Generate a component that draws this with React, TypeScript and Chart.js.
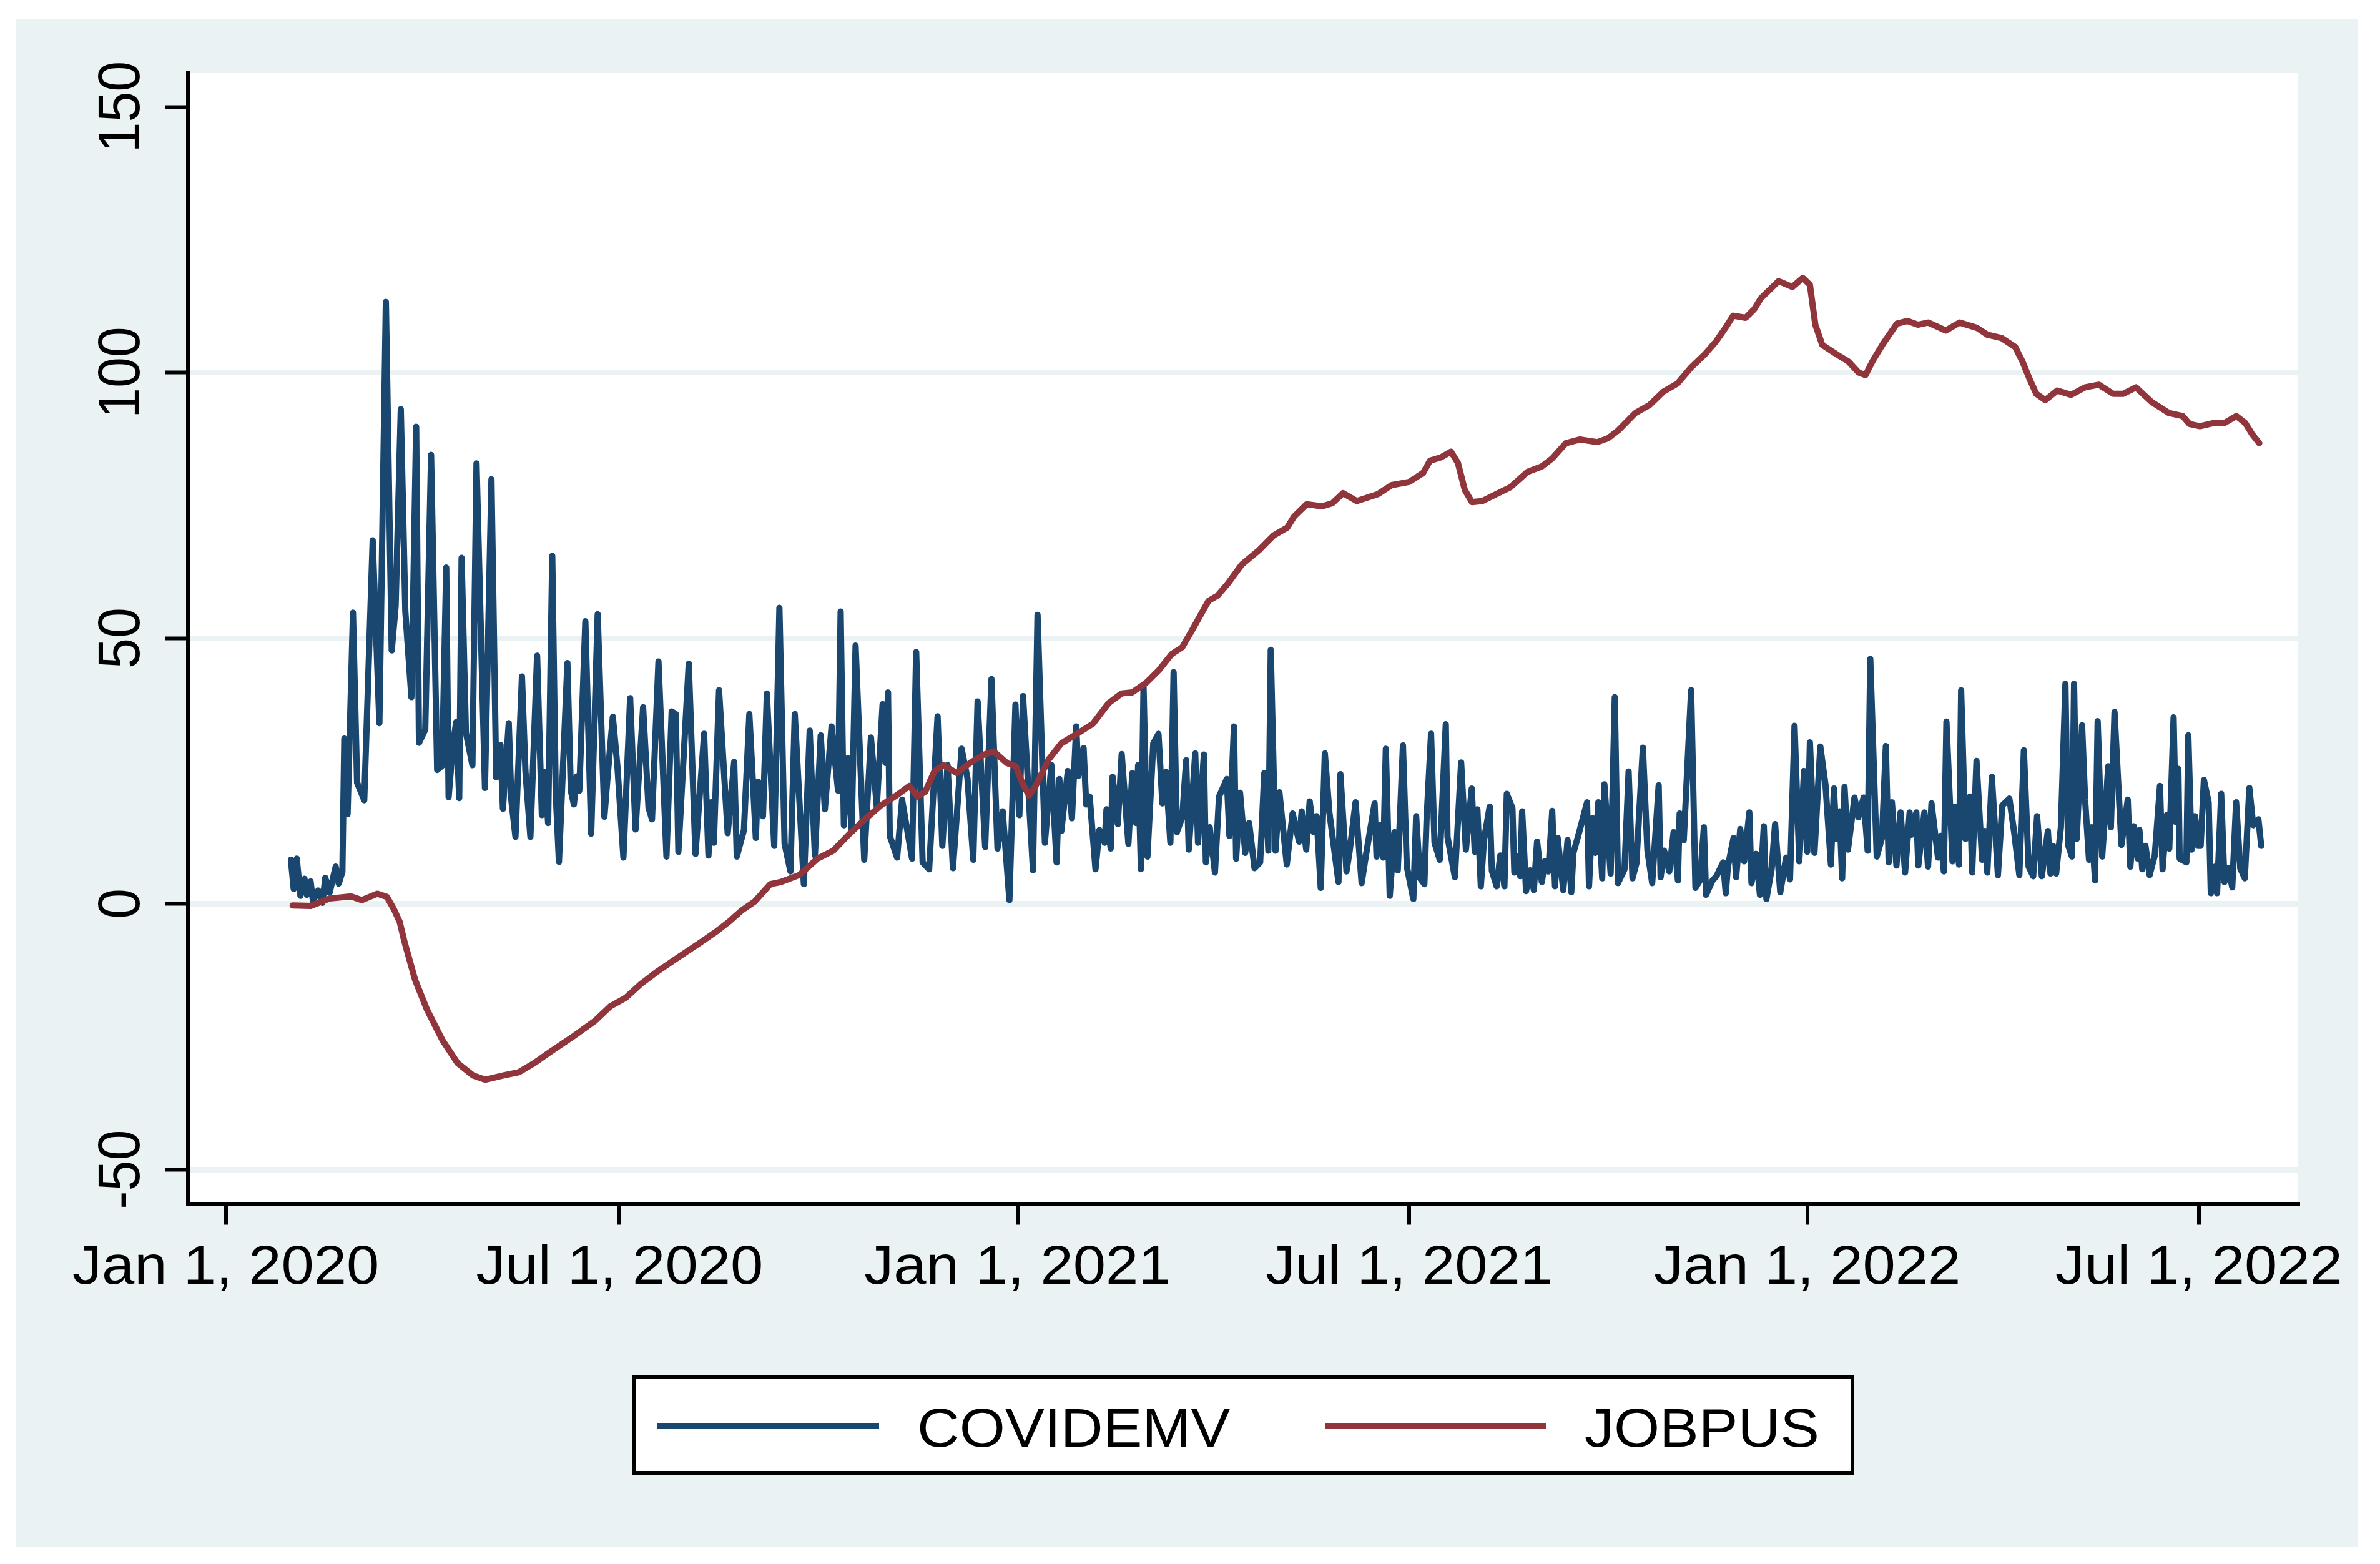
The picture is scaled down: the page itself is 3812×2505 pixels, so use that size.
import React, { useEffect, useRef } from "react";
import { Chart, registerables } from "chart.js";

Chart.register(...registerables);

// ---------- DATA (x = days since Jan 1, 2020) ----------
const seriesNames = ["COVIDEMV", "JOBPUS"];
const seriesColors = ["#1a476f", "#90353b"];

const xTickDays = [0, 182, 366, 547, 731, 912];
const xTickLabels = ["Jan 1, 2020", "Jul 1, 2020", "Jan 1, 2021", "Jul 1, 2021", "Jan 1, 2022", "Jul 1, 2022"];
const yTickValues = [-50, 0, 50, 100, 150];

const covidDays = [
  30.1, 31.4, 32.8, 34.5, 36.4, 37.5, 39.2, 40.3, 42.7, 44.7, 46.0, 48.0, 50.8, 52.2, 53.9, 54.8, 56.3, 58.8, 60.7, 64.0,
  67.9, 71.0, 74.0, 76.7, 78.5, 80.9, 83.0, 85.8, 88.0, 89.3, 92.2, 94.9, 97.7, 100.0, 101.9, 103.0, 105.0, 106.5, 107.9, 109.0,
  111.0, 114.0, 115.9, 119.8, 122.8, 125.0, 127.0, 128.1, 130.8, 132.0, 133.9, 136.9, 138.5, 140.8, 143.9, 146.1, 147.4, 149.0, 150.9, 152.5,
  154.0, 157.9, 159.5, 160.9, 162.2, 163.4, 166.2, 168.9, 171.9, 175.0, 176.5, 178.9, 181.0, 183.8, 186.9, 189.4, 192.9, 195.4,
  197.0, 200.0, 203.7, 206.1, 208.0, 209.2, 214.0, 217.1, 221.1, 223.1, 224.3, 225.6, 228.0, 232.0, 235.0, 236.2, 239.5, 242.0, 245.0, 246.0,
  248.3, 250.1, 253.5, 255.9, 258.3, 261.0, 263.0, 267.2, 269.9, 272.3, 275.0, 276.9, 280.0, 283.0, 284.2, 285.7, 287.5, 289.3, 291.1, 295.1,
  298.2, 300.9, 303.6, 305.0, 306.1, 306.9, 310.3, 312.6, 317.2, 319.1, 322.1, 325.1, 329.0, 331.2, 333.6, 336.1, 340.1, 342.8, 345.5, 347.5,
  351.0, 353.9, 356.7, 359.1, 362.2, 365.0, 366.8, 368.5, 373.1, 375.2, 378.6, 381.6, 384.0, 385.3,
  386.2, 389.2, 391.1, 393.1, 394.1, 396.5, 397.7, 399.3, 402.0, 403.8, 406.2, 407.1, 409.0, 409.9, 412.3, 414.1, 417.2, 419.0, 420.8, 421.7,
  423.0, 424.2, 426.0, 428.7, 431.1, 432.9, 434.5, 436.6, 438.1, 439.6, 442.1, 443.9, 445.1, 448.1, 449.4, 452.1, 453.0, 454.8, 457.2, 459.1,
  462.7, 463.9, 466.0, 467.0, 468.8, 471.2, 473.0, 475.5, 478.1, 480.0, 481.9, 483.0, 485.2, 487.0, 490.4, 493.1, 496.1, 497.3, 499.4, 501.0,
  502.8, 504.2, 506.1, 508.0, 510.1, 514.3, 515.2, 518.0, 519.5, 522.2, 525.0, 527.1, 531.0, 531.9, 533.4, 535.0, 536.2, 538.0, 540.2, 541.7,
  544.1, 545.9, 548.9, 550.2, 552.0, 554.0, 555.0, 557.1, 558.7, 561.1, 563.9, 564.7, 568.1, 571.0, 573.2, 575.9,
  577.3, 578.5, 580.1, 581.6, 584.2, 585.2, 587.4, 589.1, 591.0, 592.1, 594.7, 595.6, 597.1, 598.3, 599.2, 601.0, 602.8, 604.6, 606.1, 608.3,
  609.7, 611.3, 613.1, 614.4, 615.6, 618.2, 620.2, 621.9, 622.9, 625.3, 629.2, 630.1, 631.6, 633.0, 634.4, 636.2, 637.2, 640.1, 642.0, 643.5,
  646.5, 648.4, 650.2, 652.0, 655.0, 657.1, 659.3, 662.3, 663.2, 664.8, 667.2, 669.2, 671.2, 672.0, 673.9, 677.3, 679.3, 681.4, 683.2, 684.2,
  687.2, 689.0, 692.1, 693.3, 694.3, 696.9, 698.1, 700.0, 701.8, 704.2, 705.2, 707.3, 709.1, 710.9, 712.1, 714.5, 716.1, 718.5, 721.2, 723.0,
  725.1, 727.3, 729.5, 731.0, 732.2, 734.3, 737.0, 739.4, 741.9, 743.3, 744.5, 745.9, 747.1, 748.2, 749.8, 752.8, 754.6, 757.0, 758.9, 760.1,
  763.1, 765.5, 767.3,
  768.6, 770.1, 772.2, 774.1, 776.2, 778.3, 779.2, 781.4, 782.3, 785.1, 786.8, 788.4, 791.4, 792.6, 794.1, 795.3, 798.1, 799.3, 801.1, 802.1,
  804.1, 806.2, 807.2, 809.2, 811.8, 813.0, 814.2, 816.3, 819.1, 821.1, 824.4, 826.6, 829.0, 831.1, 833.3, 835.4, 837.2, 839.4, 842.2, 843.4,
  844.6, 846.0, 848.2, 850.3, 851.5, 853.3, 854.3, 855.5, 858.0, 859.4, 861.2, 862.4, 864.0, 865.2, 867.3, 870.1, 871.3, 873.0, 876.2, 877.4,
  879.1, 880.3, 881.9, 883.7, 884.5, 885.8, 887.3, 889.2, 891.6, 894.0, 895.2, 897.1, 898.3, 900.3, 901.3, 902.5, 903.1, 906.2, 907.1, 908.6,
  910.2, 911.6, 912.8, 914.3, 916.5, 917.5, 919.5, 920.4, 922.3, 923.8, 925.6, 927.4, 929.2, 931.1, 933.2, 935.3, 937.1, 939.5, 940.8,
];

const covidValues = [
  8.3, 2.8, 8.5, 1.5, 4.7, 1.7, 4.2, 0.5, 2.5, 0.2, 4.9, 2.1, 7.0, 3.8, 6.0, 31.1, 16.9, 54.8, 22.8, 19.5,
  68.4, 34.0, 113.3, 47.7, 56.0, 93.1, 55.0, 38.9, 89.8, 30.3, 32.8, 84.5, 25.2, 26.0, 63.3, 20.1, 30.0, 34.2, 19.9, 65.1,
  32.2, 26.1, 82.9, 21.8, 79.9, 23.8, 29.9, 17.9, 34.0, 19.5, 12.6, 42.8, 25.0, 12.6, 46.7, 16.7, 24.8, 15.2, 65.5, 21.0,
  7.9, 45.3, 21.3, 18.7, 24.0, 21.3, 53.2, 13.2, 54.5, 16.4, 24.0, 35.2, 26.0, 8.7, 38.7, 14.0, 37.0, 18.1,
  15.9, 45.6, 8.9, 36.2, 35.7, 9.8, 45.2, 9.4, 32.0, 9.1, 19.1, 11.5, 40.2, 13.3, 26.7, 8.9, 13.9, 35.7, 12.4, 23.0,
  16.5, 39.6, 10.9, 55.7, 11.3, 6.1, 35.7, 3.7, 32.6, 9.1, 31.7, 17.8, 33.4, 21.3, 55.0, 14.8, 27.4, 13.9, 48.6, 8.3,
  31.3, 18.3, 37.6, 26.5, 39.8, 12.8, 8.7, 19.6, 8.5, 47.4, 7.8, 6.5, 35.3, 10.9, 26.1, 6.7, 29.2, 23.7, 8.3, 38.1,
  10.7, 42.3, 10.4, 17.4, 0.7, 37.5, 16.7, 39.1, 6.3, 54.4, 11.5, 26.1, 7.8, 23.5,
  13.7, 25.0, 16.1, 33.4, 24.1, 29.3, 18.7, 20.2, 6.5, 13.9, 11.5, 17.8, 10.4, 23.9, 15.0, 28.2, 11.3, 24.6, 15.2, 26.1,
  6.5, 40.9, 8.9, 30.2, 32.0, 18.9, 24.8, 11.5, 43.6, 13.5, 16.3, 27.0, 10.2, 28.3, 11.5, 28.1, 7.8, 14.4, 5.9, 20.2,
  23.5, 12.8, 33.4, 8.5, 20.9, 9.6, 15.2, 6.7, 7.8, 24.6, 10.0, 47.8, 10.0, 21.0, 7.4, 17.0, 11.7, 17.4, 10.2, 19.3,
  13.5, 16.5, 3.0, 28.3, 17.2, 4.1, 24.4, 6.1, 10.0, 19.1, 3.9, 9.4, 18.9, 8.9, 14.8, 8.7, 29.2, 1.5, 13.5, 6.3,
  29.8, 7.0, 0.9, 16.5, 4.8, 3.7, 15.7, 32.0, 11.5, 8.3, 33.8, 12.6, 5.0, 26.6, 10.2, 21.7,
  9.8, 17.8, 3.3, 12.2, 18.3, 6.2, 3.3, 9.1, 3.3, 20.7, 18.0, 5.9, 8.9, 5.2, 17.4, 2.4, 6.3, 2.6, 11.7, 4.1,
  8.0, 6.1, 17.5, 3.3, 12.4, 2.6, 12.0, 2.2, 9.6, 13.1, 19.1, 3.3, 16.1, 9.6, 19.1, 4.8, 22.5, 5.7, 38.9, 3.9,
  6.5, 24.9, 4.8, 7.6, 29.4, 10.0, 3.9, 22.3, 5.0, 10.0, 6.1, 13.5, 4.4, 17.0, 12.0, 40.2, 3.0, 4.4, 14.4, 1.7,
  4.4, 5.2, 7.8, 2.0, 7.0, 12.4, 5.0, 14.1, 8.0, 17.2, 3.9, 9.4, 1.7, 14.6, 0.9, 6.5, 15.0, 2.2, 8.7, 4.6,
  33.5, 8.0, 25.0, 9.8, 30.4, 9.6, 29.6, 22.4, 7.4, 21.7, 12.2, 17.4, 4.8, 22.0, 10.2, 20.0, 16.3, 20.0, 10.0, 46.1,
  8.9, 12.4, 29.7,
  7.8, 19.1, 7.2, 17.2, 5.9, 17.2, 13.0, 17.2, 7.2, 17.2, 7.0, 18.9, 8.7, 12.8, 6.1, 34.3, 8.0, 18.3, 7.4, 40.2,
  12.2, 20.2, 5.9, 26.9, 8.3, 13.7, 5.9, 23.9, 5.4, 18.5, 19.8, 13.5, 5.4, 28.9, 7.0, 5.2, 16.5, 5.2, 13.7, 5.7,
  10.9, 5.7, 14.4, 41.4, 11.1, 8.9, 41.4, 12.2, 33.6, 19.6, 8.3, 14.4, 4.4, 34.4, 8.9, 25.9, 14.4, 36.1, 11.1, 14.6,
  19.6, 7.0, 14.6, 8.5, 13.9, 6.5, 10.9, 5.4, 9.1, 22.2, 6.5, 16.7, 10.4, 35.1, 15.4, 25.4, 8.5, 7.8, 31.7, 10.2,
  16.5, 10.9, 10.9, 23.3, 19.1, 2.0, 7.0, 2.0, 20.7, 4.1, 6.7, 3.1, 19.1, 6.7, 4.8, 21.8, 14.8, 15.9, 10.9,
];

const jobDays = [
  30.9, 39.2, 48.0, 57.9, 62.9, 70.1, 74.5, 77.8, 80.4, 82.5, 87.5, 93.1, 100.2, 107.2, 114.3, 119.9, 128.4, 135.4, 142.5, 149.5,
  160.1, 170.7, 177.7, 184.8, 191.8, 198.9, 209.4, 220.0, 227.1, 232.2, 238.3, 244.4, 251.7, 256.5, 265.0, 273.5, 280.8, 288.1, 295.4, 302.7,
  310.0, 316.0, 319.7, 323.3, 327.6, 331.8, 337.9, 344.0, 350.0, 354.9, 361.0, 365.2, 368.3, 371.3, 374.3, 380.4, 386.2, 393.5, 400.8, 408.1,
  414.1, 419.0, 425.1, 431.1, 437.2, 442.1, 446.9, 454.2, 458.4, 463.2, 469.7, 477.7, 484.2, 490.6, 493.8, 499.6, 506.7, 511.5, 516.4, 522.8,
  532.5, 538.9, 547.0, 553.4, 556.6, 561.5, 566.3, 569.5, 572.7, 576.0, 580.8, 587.2, 593.7, 601.7, 608.2, 613.0, 619.4, 625.9, 633.9, 638.8,
  643.6, 651.6, 658.1, 664.5, 670.9, 677.4, 683.8, 688.7, 693.5, 696.7, 702.5, 706.4, 709.6, 714.4, 717.7, 724.1, 728.9, 732.2, 734.7, 737.9,
  745.0, 749.9, 754.7, 757.9, 761.1, 766.0, 772.4, 777.2, 782.1, 786.9, 795.0, 801.4, 809.4, 814.3, 820.7, 827.1, 830.4, 833.6, 836.8, 841.0,
  846.5, 852.9, 859.4, 865.8, 872.3, 877.1, 882.9, 890.0, 898.0, 904.5, 907.7, 912.5, 919.0, 923.8, 929.3, 933.4, 936.6, 939.9,
];

const jobValues = [
  -0.3, -0.4, 1.0, 1.4, 0.7, 1.9, 1.3, -1.1, -3.4, -7.0, -14.3, -20.0, -25.7, -30.0, -32.3, -33.1, -32.3, -31.7, -30.0, -28.0,
  -25.1, -22.0, -19.3, -17.7, -15.1, -12.9, -10.0, -7.1, -5.1, -3.5, -1.3, 0.4, 3.7, 4.1, 5.4, 8.5, 10.0, 13.1, 15.9, 18.5,
  20.4, 22.2, 20.2, 21.1, 25.0, 26.1, 24.6, 26.5, 28.0, 28.7, 26.5, 25.9, 22.6, 20.4, 22.2, 27.2, 30.2, 32.0, 33.9, 37.8,
  39.6, 39.8, 41.5, 43.9, 47.0, 48.3, 51.7, 57.0, 58.0, 60.3, 63.9, 66.6, 69.3, 70.8, 72.9, 75.2, 74.8, 75.4, 77.3, 75.8,
  77.1, 78.8, 79.4, 81.1, 83.4, 84.0, 85.1, 83.0, 77.9, 75.6, 75.8, 77.1, 78.4, 81.3, 82.3, 83.8, 86.7, 87.4, 86.9, 87.6,
  89.1, 92.4, 93.9, 96.4, 97.9, 101.0, 103.5, 105.8, 108.6, 110.7, 110.3, 111.9, 114.0, 115.9, 117.2, 116.1, 117.8, 116.5, 109.0, 105.2,
  103.3, 102.1, 100.0, 99.5, 102.1, 105.4, 109.2, 109.7, 109.0, 109.4, 107.9, 109.4, 108.4, 107.1, 106.5, 104.8, 102.1, 98.9, 96.0, 94.8,
  96.6, 95.8, 97.2, 97.7, 96.0, 96.0, 97.2, 94.5, 92.4, 91.8, 90.3, 89.9, 90.5, 90.5, 91.8, 90.5, 88.4, 86.7,
];

// ---------- LOOK ----------
const W = 3812;
const H = 2505;
const FONT = '"Liberation Sans", Arial, Helvetica, sans-serif';
const TEXT_SIZE = 88;
const X_STRETCH = 1.068;
const BG = "#eaf2f3";

const stataPlugin = {
  id: "stataLook",
  beforeDraw(chart: any) {
    const { ctx, chartArea: a } = chart;
    ctx.save();
    ctx.fillStyle = "#ffffff";
    ctx.fillRect(0, 0, W, H);
    ctx.fillStyle = BG;
    ctx.fillRect(25, 31, 3752, 2446);
    ctx.fillStyle = "#ffffff";
    ctx.fillRect(a.left, a.top, a.right - a.left, a.bottom - a.top);
    ctx.restore();
  },
  afterDraw(chart: any) {
    const { ctx, chartArea: a, scales } = chart;
    const xs = scales.x;
    const ys = scales.y;
    ctx.save();
    ctx.fillStyle = "#000000";
    ctx.font = `${TEXT_SIZE}px ${FONT}`;
    ctx.textBaseline = "alphabetic";
    ctx.textAlign = "center";

    // x tick labels
    xs.ticks.forEach((t: any) => {
      const i = xTickDays.indexOf(t.value);
      if (i < 0) return;
      const px = xs.getPixelForValue(t.value);
      ctx.save();
      ctx.translate(px, a.bottom + 128.5);
      ctx.scale(X_STRETCH, 1);
      ctx.fillText(xTickLabels[i], 0, 0);
      ctx.restore();
    });

    // y tick labels (rotated)
    ys.ticks.forEach((t: any) => {
      const py = ys.getPixelForValue(t.value);
      ctx.save();
      ctx.translate(a.left - 78, py);
      ctx.scale(X_STRETCH, 1);
      ctx.rotate(-Math.PI / 2);
      ctx.fillText(String(t.value), 0, 0);
      ctx.restore();
    });

    // legend box
    const cx = (a.left + a.right) / 2;
    const bl = cx - 979;
    const br = cx + 979;
    const bt = 2203;
    const bb = 2362;
    ctx.fillStyle = "#ffffff";
    ctx.fillRect(bl, bt, br - bl, bb - bt);
    ctx.lineWidth = 6;
    ctx.strokeStyle = "#000000";
    ctx.strokeRect(bl + 3, bt + 3, br - bl - 6, bb - bt - 6);

    const offsets = [
      [41, 396, 457],
      [1110, 1464, 1526],
    ];
    chart.data.datasets.forEach((ds: any, i: number) => {
      const [l0, l1, tx] = offsets[i];
      ctx.beginPath();
      ctx.moveTo(bl + l0, 2283.5);
      ctx.lineTo(bl + l1, 2283.5);
      ctx.strokeStyle = ds.borderColor;
      ctx.lineWidth = 9;
      ctx.lineCap = "butt";
      ctx.stroke();
      ctx.save();
      ctx.translate(bl + tx, 2317);
      ctx.scale(X_STRETCH, 1);
      ctx.textAlign = "left";
      ctx.fillStyle = "#000000";
      ctx.fillText(ds.label, 0, 0);
      ctx.restore();
    });
    ctx.restore();
  },
};

export default function App() {
  const ref = useRef<HTMLCanvasElement>(null);

  useEffect(() => {
    document.body.style.margin = "0";
    const canvas = ref.current;
    if (!canvas) return;
    const chart = new Chart(canvas, {
      type: "line",
      data: {
        datasets: [
          {
            label: seriesNames[0],
            data: covidDays.map((d, i) => ({ x: d, y: covidValues[i] })),
            borderColor: seriesColors[0],
            backgroundColor: seriesColors[0],
            borderWidth: 10,
            pointRadius: 0,
            tension: 0,
            fill: false,
            order: 2,
            borderJoinStyle: "round",
            borderCapStyle: "round",
          },
          {
            label: seriesNames[1],
            data: jobDays.map((d, i) => ({ x: d, y: jobValues[i] })),
            borderColor: seriesColors[1],
            backgroundColor: seriesColors[1],
            borderWidth: 10,
            pointRadius: 0,
            tension: 0,
            fill: false,
            order: 1,
            borderJoinStyle: "round",
            borderCapStyle: "round",
          },
        ],
      },
      options: {
        animation: false,
        responsive: false,
        devicePixelRatio: 1,
        events: [],
        layout: { padding: { left: 0, top: 117, right: 131, bottom: 477.5 } },
        plugins: { legend: { display: false }, tooltip: { enabled: false }, title: { display: false } },
        scales: {
          x: {
            type: "linear",
            position: "bottom",
            min: -17.49,
            max: 957.9,
            afterBuildTicks: (s: any) => {
              s.ticks = xTickDays.map((v) => ({ value: v }));
            },
            afterFit: (s: any) => {
              s.height = 100;
              s.paddingLeft = 0;
              s.paddingRight = 0;
            },
            ticks: { display: false },
            grid: {
              drawOnChartArea: false,
              drawTicks: true,
              tickLength: 34,
              tickWidth: 6,
              tickColor: "#000000",
              lineWidth: 6,
              color: "#000000",
            },
            border: { display: true, color: "#000000", width: 6 },
          },
          y: {
            type: "linear",
            position: "left",
            min: -56.39,
            max: 156.36,
            afterBuildTicks: (s: any) => {
              s.ticks = yTickValues.map((v) => ({ value: v }));
            },
            afterFit: (s: any) => {
              s.width = 301;
              s.paddingTop = 0;
              s.paddingBottom = 0;
            },
            ticks: { display: false },
            grid: {
              drawOnChartArea: true,
              drawTicks: true,
              tickLength: 37,
              tickWidth: 6,
              tickColor: "#000000",
              lineWidth: 9,
              color: (c: any) => (c.tick && c.tick.value === 150 ? "rgba(0,0,0,0)" : BG),
            },
            border: { display: true, color: "#000000", width: 7 },
          },
        },
      },
      plugins: [stataPlugin],
    } as any);
    return () => chart.destroy();
  }, []);

  return (
    <div style={{ width: W, height: H, position: "relative" }}>
      <canvas ref={ref} width={W} height={H} style={{ display: "block", width: W, height: H }} />
    </div>
  );
}
